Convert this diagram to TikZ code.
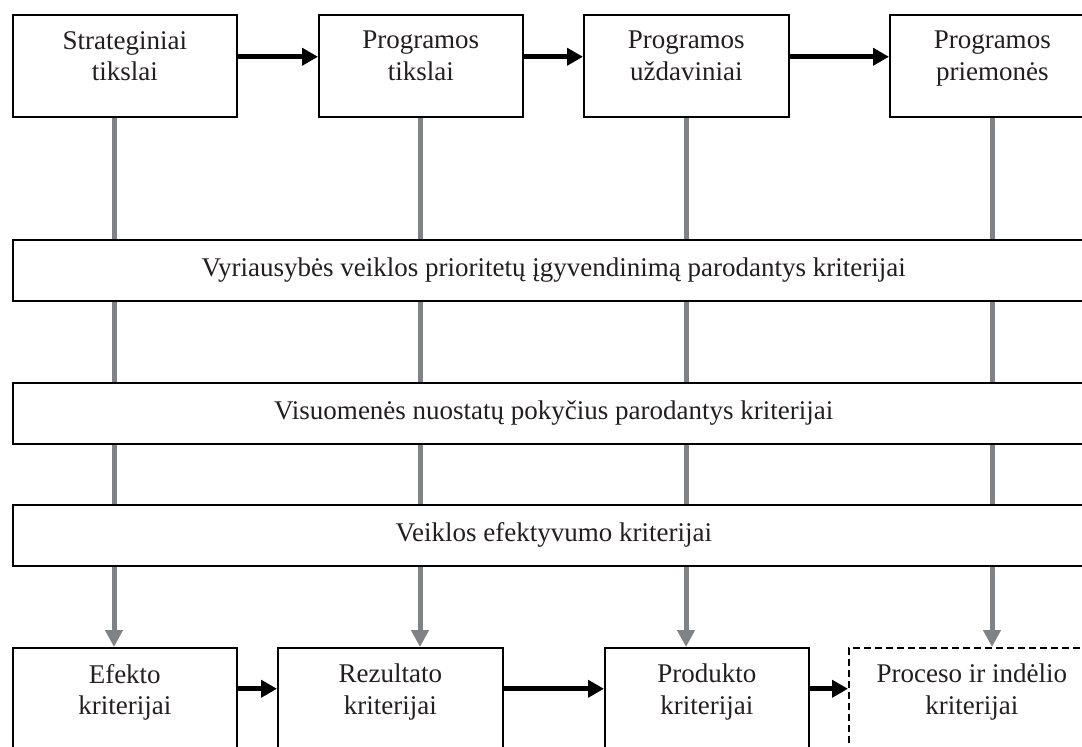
\documentclass[tikz,border=0pt]{standalone}
\usepackage{fontspec}
\setmainfont{Liberation Serif}
\usetikzlibrary{arrows.meta}
\usetikzlibrary{positioning}

\definecolor{linegray}{RGB}{128,131,133}
\definecolor{textdark}{RGB}{35,31,32}

\begin{document}
\begin{tikzpicture}[x=1pt, y=-1pt]
    \tikzset{
        every node/.style={font=\fontsize{27}{31.5}\selectfont, text=textdark},
        box/.style={draw, line width=1.5pt, fill=white, anchor=north west, minimum height=102pt, inner sep=0pt},
        dashbox/.style={box, dash pattern=on 7pt off 4pt},
        band/.style={draw, line width=1.5pt, fill=white, anchor=north west, minimum width=1082pt, minimum height=61pt, inner sep=0pt},
        lbl/.style={align=center, inner sep=0pt},
        flow/.style={line width=5pt, -{Triangle[length=16pt, width=17pt]}},
        vline/.style={line width=5pt, draw=linegray},
        varrow/.style={vline, -{Triangle[length=17pt, width=17pt]}}
    }

    \useasboundingbox (0,0) rectangle (1082,747);
    \clip (0,0) rectangle (1082,747);

    % top row
    \node [box, minimum width=224pt] (t1) at (12,14) {};
    \node [box, minimum width=204pt] (t2) at (318,14) {};
    \node [box, minimum width=205pt] (t3) at (583,14) {};
    \node [box, minimum width=205pt] (t4) at (889,14) {};
    \node [lbl, below=17pt of t1.north] {Strateginiai\\tikslai};
    \node [lbl, below=17pt of t2.north] {Programos\\tikslai};
    \node [lbl, below=17pt of t3.north] {Programos\\uždaviniai};
    \node [lbl, below=17pt of t4.north] {Programos\\priemonės};

    % criteria bands
    \node [band] (v1) at (12,239) {Vyriausybės veiklos prioritetų įgyvendinimą parodantys kriterijai};
    \node [band] (v2) at (12,382) {Visuomenės nuostatų pokyčius parodantys kriterijai};
    \node [band] (v3) at (12,504) {Veiklos efektyvumo kriterijai};

    % bottom row
    \node [box, minimum width=224pt] (b1) at (12,647) {};
    \node [box, minimum width=225pt] (b2) at (277,647) {};
    \node [box, minimum width=204pt] (b3) at (604,647) {};
    \node [dashbox, minimum width=246pt] (b4) at (848,647) {};
    \node [lbl, below=17pt of b1.north] {Efekto\\kriterijai};
    \node [lbl, below=17pt of b2.north] {Rezultato\\kriterijai};
    \node [lbl, below=17pt of b3.north] {Produkto\\kriterijai};
    \node [lbl, below=17pt of b4.north] {Proceso ir indėlio\\kriterijai};

    \coordinate (c1) at (114,0);
    \coordinate (c2) at (420,0);
    \coordinate (c3) at (686,0);
    \coordinate (c4) at (992,0);

    \foreach \c in {1, 2, 3, 4} {
        \draw [vline] (t\c.south -| c\c) -- (v1.north -| c\c);
        \draw [vline] (v1.south -| c\c) -- (v2.north -| c\c);
        \draw [vline] (v2.south -| c\c) -- (v3.north -| c\c);
        \draw [varrow] (v3.south -| c\c) -- (b\c.north -| c\c);
    }

    \draw [flow] ([yshift=9pt]t1.east) -- ([yshift=9pt]t2.west);
    \draw [flow] ([yshift=9pt]t2.east) -- ([yshift=9pt]t3.west);
    \draw [flow] ([yshift=9pt]t3.east) -- ([yshift=9pt]t4.west);

    \draw [flow] ([yshift=10pt]b1.east) -- ([yshift=10pt]b2.west);
    \draw [flow] ([yshift=10pt]b2.east) -- ([yshift=10pt]b3.west);
    \draw [flow] ([yshift=10pt]b3.east) -- ([yshift=10pt]b4.west);

\end{tikzpicture}
\end{document}
